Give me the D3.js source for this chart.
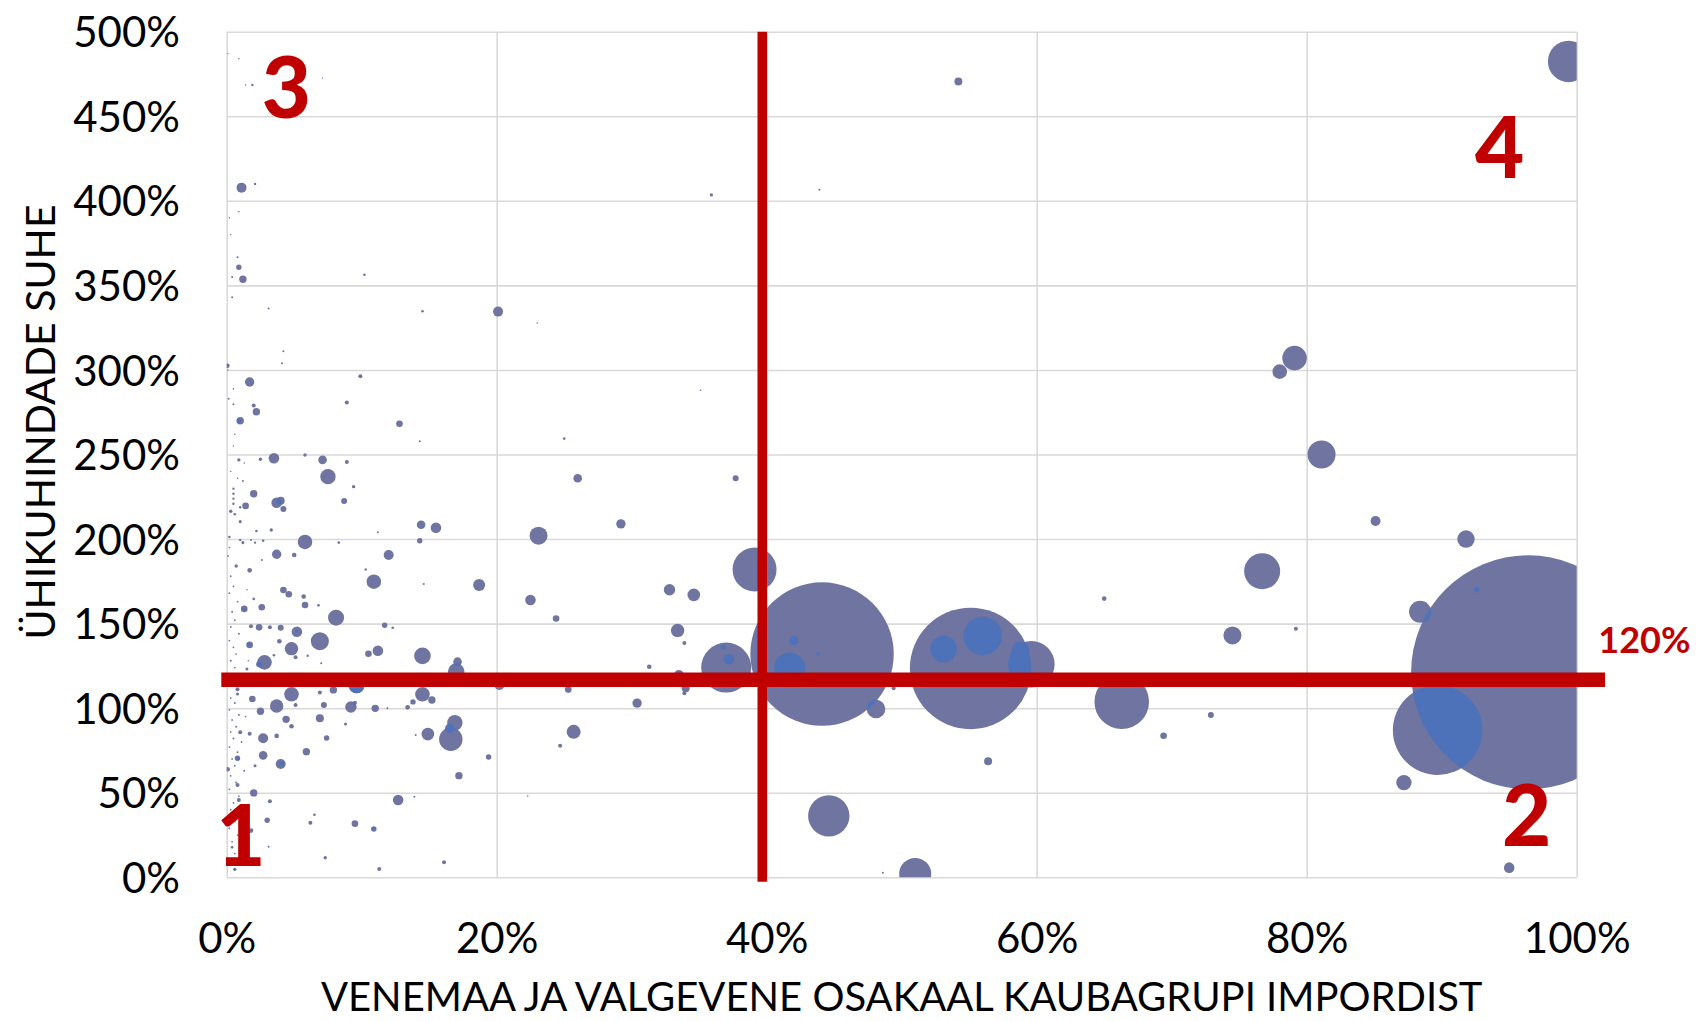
<!DOCTYPE html>
<html>
<head>
<meta charset="utf-8">
<script src="https://cdn.jsdelivr.net/npm/d3@7"></script>
<style>
  body { margin: 0; background: #fff; }
  text { font-family: Lato, "Open Sans", sans-serif; }
</style>
</head>
<body>
<script>
// each row: [share of RU+BY in imports %, unit price ratio %, bubble size]
var rightGroup = [
  [96.4, 121.2, 13689], [89.7, 87, 2007], [88.4, 157, 121], [92.6, 170, 7.3],
  [91.8, 200, 76], [95.0, 5.7, 28], [87.2, 56, 59], [85.1, 210.7, 25],
  [81.1, 250, 196], [79.1, 307, 151], [78.0, 299, 53], [76.7, 181, 324],
  [74.5, 143, 81], [79.2, 147, 4], [65.0, 164.8, 5.3], [66.3, 103.8, 745],
  [72.9, 96, 9], [69.4, 83.7, 11], [99.4, 482.4, 428], [54.2, 470.5, 16]
];
var midGroup = [
  [59.6, 126, 543], [58.8, 134, 81], [55.1, 123.5, 3684], [53.1, 135, 177],
  [56.0, 142.7, 372], [56.4, 68.6, 16], [51.0, 2, 256], [48.6, 2.7, 1],
  [48.1, 99.5, 86], [49.4, 111.8, 4], [44.1, 132, 5141], [41.7, 123.6, 246],
  [42.0, 140, 22], [43.8, 132, 2.9], [44.6, 36.3, 428], [39.1, 182, 484],
  [37.0, 124, 625], [37.2, 129, 28], [36.8, 136, 7.3], [37.7, 236, 9],
  [33.4, 146, 45], [33.9, 138.6, 4], [32.8, 170, 32.5], [34.6, 167, 40],
  [31.3, 124.5, 5.3], [33.5, 119.6, 25], [34.0, 111.8, 16], [33.9, 108.8, 4],
  [30.4, 103, 22], [29.2, 209, 22], [26.0, 236, 18.5], [23.1, 202, 81],
  [22.5, 164, 28], [24.4, 153, 11], [25.7, 86, 49], [24.7, 77.8, 4],
  [25.3, 111, 11], [21.5, 116.7, 45], [20.2, 113.7, 25], [22.3, 48, 0.6],
  [35.9, 403.5, 2.9], [43.9, 406.6, 1], [20.1, 334.5, 25], [23.0, 327.8, 0.6],
  [35.1, 288, 0.6], [25.0, 259.4, 1.7]
];
var leftCluster = [
  [0.9, 484, 0.6], [1.4, 468.5, 0.6], [1.9, 468.5, 1.4], [7.1, 472.5, 0.4],
  [1.1, 407.8, 25], [2.1, 410, 1.4], [0.9, 393.6, 0.6], [0.9, 360.7, 7.3],
  [1.2, 353.6, 13.7], [0.8, 366.6, 1], [0.4, 355, 1], [0.4, 343, 1],
  [3.1, 336.3, 1], [10.2, 356.3, 1.7], [14.5, 334.7, 1.7],
  [0.05, 302.5, 5.3], [4.2, 311, 1], [4.1, 304, 1], [1.7, 292.9, 22],
  [9.9, 296.3, 4], [0.5, 288.8, 0.6], [0.15, 283, 1], [0.5, 279.7, 1],
  [2.0, 278.9, 4], [2.2, 275.3, 13.7], [8.9, 280.7, 4], [1.0, 270, 13.7],
  [0.9, 269.7, 4], [12.8, 268.2, 11], [14.3, 257.8, 1], [0.9, 246.8, 2.9],
  [2.5, 247.2, 2.9], [3.5, 247.8, 28], [5.8, 249.7, 2.9], [7.1, 246.8, 18.5],
  [8.9, 245.6, 4], [7.5, 236.9, 59], [9.4, 231, 2.9], [1.2, 234.4, 1],
  [2.0, 226.8, 13.7], [0.5, 229.8, 1.4], [0.5, 226.8, 1.4], [0.5, 223.9, 1.4],
  [0.5, 220.9, 1.4], [3.7, 221.5, 28], [4.0, 222.7, 16], [4.2, 217.8, 9],
  [1.4, 219.6, 11], [1.0, 218.8, 1.4], [0.3, 216.4, 2.9], [0.6, 214.7, 1.7],
  [1.0, 210.3, 2.3], [8.7, 222.5, 9], [3.3, 205.4, 2.9], [2.2, 204.8, 1.7],
  [0.2, 201.2, 1.7], [5.8, 198.3, 53], [5.0, 190.6, 5.3], [3.7, 191, 22],
  [2.7, 199, 1.7], [1.2, 197.9, 2.3], [1.0, 199.5, 1.4], [2.1, 197.9, 1.4],
  [1.8, 199.5, 1], [8.3, 197.9, 1.7], [12.0, 190.6, 25], [14.3, 199, 7.3],
  [14.4, 208.5, 18.5], [15.5, 206.7, 28], [11.2, 204, 1], [2.6, 187.6, 1],
  [0.7, 184.1, 2.9], [1.7, 181.5, 5.3], [10.3, 182, 1.4],
  [10.9, 174.8, 53], [14.6, 173.4, 1], [18.7, 172.9, 36], [4.2, 169.9, 11],
  [4.6, 167.4, 11], [5.7, 166, 5.3], [6.8, 160.8, 1.7], [5.8, 161, 11],
  [2.0, 164.6, 1.7], [2.6, 159.7, 11], [1.3, 158.7, 11], [1.3, 158.9, 2],
  [8.1, 153.5, 64], [11.7, 149, 7.3], [12.3, 147.6, 1.7], [2.4, 147.8, 11],
  [3.2, 147.8, 4], [4.0, 147.6, 9], [1.8, 148.4, 4], [5.2, 145.2, 28],
  [5.2, 145.5, 2.3], [6.9, 139.6, 81], [4.8, 135.2, 45], [3.9, 139.6, 5.3],
  [5.1, 130.1, 4], [6.0, 131, 1.4], [10.5, 132.2, 11], [11.2, 134, 28],
  [14.5, 130.9, 69], [17.1, 127.5, 18.5], [17.0, 121.6, 69], [2.8, 127.1, 53],
  [2.4, 126, 9], [1.7, 137.4, 11], [1.6, 137.8, 2.3], [3.5, 131.3, 1.7],
  [7.0, 126.5, 1], [1.5, 123.2, 2.3],
  [4.8, 108.2, 53], [3.7, 101.3, 45], [1.9, 105.4, 11], [0.8, 111.2, 4],
  [2.5, 98.2, 13.7], [5.1, 101.9, 4], [6.9, 109.2, 4], [7.2, 101.9, 9],
  [7.9, 110.8, 13.7], [9.2, 100.7, 32.5], [9.5, 103.2, 4], [9.6, 113.5, 64],
  [9.65, 113.2, 55], [11.0, 99.9, 13.7], [11.9, 99.9, 1], [13.4, 100.5, 5.3],
  [13.8, 103.7, 7.3], [14.5, 108.2, 53], [15.2, 104.8, 13.7], [16.9, 91.4, 59],
  [16.5, 88.1, 20], [16.6, 81.6, 137], [14.9, 84.7, 40], [19.4, 71.1, 7.3],
  [17.2, 60.1, 13.7], [12.7, 45.7, 28], [13.9, 47.7, 1], [9.5, 31.7, 11],
  [10.9, 28.6, 7.3], [10.85, 28.9, 2], [16.1, 8.9, 4], [11.3, 4.9, 4],
  [7.3, 11.6, 2.9], [6.2, 32.3, 4], [6.5, 37, 1.7], [3.0, 33.7, 7.3],
  [3.2, 44.9, 4], [2.0, 49.9, 13.7], [0.9, 45.7, 4], [1.8, 27.6, 5.3],
  [0.4, 17.7, 1.7], [0.6, 4.7, 2.9], [3.1, 18.1, 1], [0.8, 54.6, 4],
  [0.07, 63.9, 5.3], [2.7, 72.1, 18.5], [4.0, 67, 25], [4.1, 67.5, 6],
  [2.7, 82.2, 25], [3.7, 83.6, 5.3], [4.4, 93.4, 13.7], [4.8, 89.3, 5.3],
  [5.9, 74.3, 13.7], [7.4, 82.4, 7.3], [8.8, 90.7, 2.3], [2.1, 66, 2.3],
  [0.8, 70.4, 7.3], [0.85, 70.0, 2], [6.9, 94, 16], [7.1, 113.7, 1.7],
  [0.8, 108.4, 2.3], [1.7, 84.9, 4], [1.0, 85.7, 4], [14.0, 84.1, 1]
];
var tinyDots = [
  [0.1, 487, 0.4], [0.2, 390, 0.5], [0.3, 380, 0.5], [0.1, 300, 0.6], [0.6, 262, 0.6],
  [0.5, 255, 0.6], [0.3, 240, 0.6], [0.8, 236, 0.6], [0.2, 195, 0.7], [0.1, 190, 0.8],
  [0.3, 178, 0.8], [0.5, 172, 0.8], [0.2, 168, 0.8], [0.8, 163, 0.8], [0.4, 157, 1],
  [0.6, 152, 0.8], [0.3, 148, 0.8], [0.9, 144, 1], [0.2, 140, 0.8], [0.5, 136, 0.8],
  [0.7, 132, 0.8], [0.3, 128, 1], [0.6, 124, 0.8], [0.2, 120, 0.8], [1.0, 117, 1],
  [0.4, 114, 0.8], [0.3, 106, 0.8], [0.6, 103, 1], [0.2, 99, 0.8], [0.9, 96, 1],
  [0.4, 93, 0.8], [0.7, 89, 1], [0.3, 86, 0.8], [0.5, 82, 1], [1.1, 80, 0.8],
  [0.2, 77, 0.8], [0.8, 74, 1], [0.4, 70, 0.8], [0.6, 66, 0.8], [1.3, 63, 1],
  [0.3, 60, 0.8], [0.7, 56, 1], [0.2, 52, 0.8], [0.9, 48, 0.8], [0.5, 44, 0.8],
  [0.3, 40, 0.8], [1.2, 37, 1], [0.6, 33, 0.8], [0.2, 29, 0.8], [0.8, 25, 0.8],
  [0.4, 21, 0.8], [0.6, 14, 0.8], [0.3, 8, 0.8], [1.5, 41, 0.6], [1.4, 95, 0.6],
  [1.6, 128, 0.6], [1.5, 170, 0.6], [1.3, 245, 0.6]
];

var xTicks = [0, 20, 40, 60, 80, 100];
var yTicks = [0, 50, 100, 150, 200, 250, 300, 350, 400, 450, 500];
var quadLabels = [["1", 1.06, 6.7], ["2", 96.3, 18.6], ["3", 4.43, 449], ["4", 94.3, 413.6]];
var refShare = 39.67, refRatio = 116.8, refLabel = "120%";
var xTitle = "VENEMAA JA VALGEVENE OSAKAAL KAUBAGRUPI IMPORDIST";
var yTitle = "ÜHIKUHINDADE SUHE";

var W = 1696, H = 1021;
var pL = 226.7, pR = 1576.7, pT = 31.7, pB = 877.3;
var grey = "#6f74a0", blue = "#4e72ba", red = "#c00000";

var x = d3.scaleLinear().domain([0, 100]).range([pL, pR]);
var y = d3.scaleLinear().domain([0, 500]).range([pB, pT]);
var rs = d3.scaleSqrt().domain([0, 13689]).range([0, 117]);

var svg = d3.select("body").append("svg")
    .attr("width", W)
    .attr("height", H);

var defs = svg.append("defs");
defs.append("clipPath").attr("id", "plot")
  .append("rect")
    .attr("x", pL).attr("y", pT)
    .attr("width", pR - pL).attr("height", pB - pT);

// gridlines + tick labels
var gx = svg.append("g")
    .attr("transform", "translate(0," + pB + ")")
    .call(d3.axisBottom(x).tickValues(xTicks).tickSize(-(pB - pT)).tickFormat(function(d) { return d + "%"; }));
var gy = svg.append("g")
    .attr("transform", "translate(" + pL + ",0)")
    .call(d3.axisLeft(y).tickValues(yTicks).tickSize(-(pR - pL)).tickFormat(function(d) { return d + "%"; }));

[gx, gy].forEach(function(g) {
  g.select(".domain").remove();
  g.selectAll("line").attr("stroke", "#d9d9d9").attr("stroke-width", 1.6);
  g.selectAll("text").attr("fill", "#000").attr("font-size", 42).attr("font-family", "Lato");
});
gx.selectAll("text").attr("y", 953 - pB).attr("dy", 0);
gy.selectAll("text").attr("x", 180 - pL).attr("dy", "0.36em");

// bubbles
var pts = rightGroup.concat(midGroup, leftCluster, tinyDots).map(function(d) {
  return { cx: x(d[0]), cy: y(d[1]), r: rs(d[2]) };
});
pts.sort(function(a, b) { return b.r - a.r; });
pts.forEach(function(d, i) { d.id = i; });

var plot = svg.append("g").attr("clip-path", "url(#plot)");

plot.selectAll("circle.b")
  .data(pts)
  .enter().append("circle")
    .attr("class", "b")
    .attr("cx", function(d) { return d.cx; })
    .attr("cy", function(d) { return d.cy; })
    .attr("r", function(d) { return d.r; })
    .attr("fill", grey);

// where two bubbles overlap the fill turns blue
var pairs = [];
pts.forEach(function(a, i) {
  pts.forEach(function(b, j) {
    if (j <= i) return;
    var dd = Math.hypot(a.cx - b.cx, a.cy - b.cy);
    if (dd < a.r + b.r - 0.4) pairs.push([a, b]);
  });
});
var used = {};
pairs.forEach(function(p) { used[p[0].id] = p[0]; });
Object.keys(used).forEach(function(k) {
  var a = used[k];
  defs.append("clipPath").attr("id", "c" + a.id)
    .append("circle").attr("cx", a.cx).attr("cy", a.cy).attr("r", a.r);
});
plot.selectAll("circle.o")
  .data(pairs)
  .enter().append("circle")
    .attr("class", "o")
    .attr("clip-path", function(p) { return "url(#c" + p[0].id + ")"; })
    .attr("cx", function(p) { return p[1].cx; })
    .attr("cy", function(p) { return p[1].cy; })
    .attr("r", function(p) { return p[1].r; })
    .attr("fill", blue);

// reference lines
svg.append("line")
    .attr("x1", x(-0.4)).attr("x2", x(102.1))
    .attr("y1", y(refRatio)).attr("y2", y(refRatio))
    .attr("stroke", red).attr("stroke-width", 14.3);
svg.append("line")
    .attr("x1", x(refShare)).attr("x2", x(refShare))
    .attr("y1", y(500)).attr("y2", y(-2.6))
    .attr("stroke", red).attr("stroke-width", 9.5);

svg.append("text")
    .attr("x", x(101.6)).attr("y", y(132.6))
    .attr("fill", red).attr("font-weight", "bold").attr("font-size", 36)
    .text(refLabel);

svg.selectAll("text.q")
  .data(quadLabels)
  .enter().append("text")
    .attr("class", "q")
    .attr("x", function(d) { return x(d[1]); })
    .attr("y", function(d) { return y(d[2]); })
    .attr("text-anchor", "middle")
    .attr("fill", red).attr("font-weight", 900).attr("font-size", 85)
    .text(function(d) { return d[0]; });

// axis titles
svg.append("text")
    .attr("x", (pL + pR) / 2).attr("y", 1011)
    .attr("text-anchor", "middle").attr("font-size", 40)
    .text(xTitle);
svg.append("text")
    .attr("transform", "translate(55,422) rotate(-90)")
    .attr("text-anchor", "middle").attr("font-size", 41)
    .text(yTitle);
</script>
</body>
</html>
